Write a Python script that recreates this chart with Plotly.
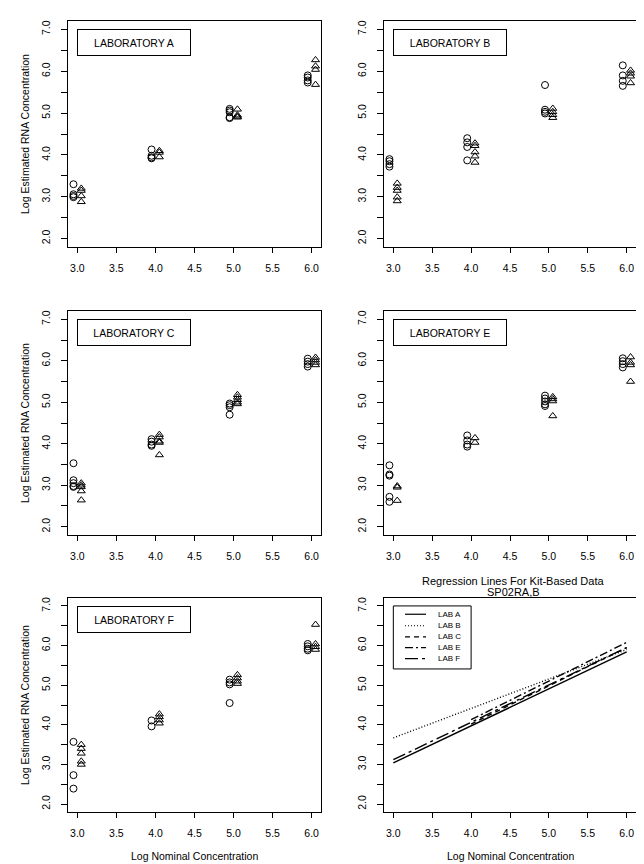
import plotly.graph_objects as go

# ---------------- data ----------------
levels = [3.0, 4.0, 5.0, 6.0]
x_tick_vals = [3.0, 3.5, 4.0, 4.5, 5.0, 5.5, 6.0]
y_tick_vals = [2.0, 3.0, 4.0, 5.0, 6.0, 7.0]

panel_labels = ["LABORATORY A", "LABORATORY B", "LABORATORY C",
                "LABORATORY E", "LABORATORY F"]

# circles (first run) and triangles (second run), one list per nominal level
lab_a_circles = [[3.30, 3.06, 3.02, 2.99], [4.13, 3.98, 3.94, 3.92],
                 [5.10, 5.06, 5.02, 4.90, 4.88], [5.90, 5.85, 5.78, 5.73]]
lab_a_triangles = [[3.20, 3.15, 3.02, 2.88], [4.10, 4.06, 3.95],
                   [5.09, 4.95, 4.92, 4.90], [6.27, 6.12, 6.04, 5.68]]

lab_b_circles = [[3.90, 3.85, 3.78, 3.72], [4.40, 4.30, 4.19, 3.87],
                 [5.67, 5.08, 5.03, 4.99], [6.14, 5.90, 5.77, 5.65]]
lab_b_triangles = [[3.32, 3.22, 3.15, 2.99, 2.90], [4.28, 4.22, 4.07, 3.97, 3.82],
                   [5.11, 5.03, 4.96, 4.89], [6.02, 5.95, 5.88, 5.72]]

lab_c_circles = [[3.53, 3.12, 3.05, 2.98, 2.96], [4.11, 4.05, 3.98, 3.95],
                 [4.97, 4.93, 4.88, 4.70], [6.05, 5.98, 5.92, 5.86]]
lab_c_triangles = [[3.05, 3.00, 2.96, 2.86, 2.64], [4.22, 4.16, 4.06, 4.03, 3.73],
                   [5.18, 5.12, 5.06, 5.00, 4.96], [6.08, 6.02, 5.96, 5.90]]

lab_e_circles = [[3.48, 3.26, 3.23, 2.72, 2.60], [4.20, 4.08, 3.98, 3.93],
                 [5.16, 5.09, 5.02, 4.95, 4.91], [6.06, 5.99, 5.92, 5.84]]
lab_e_triangles = [[2.98, 2.95, 2.63], [4.14, 4.03],
                   [5.13, 5.08, 5.03, 4.67], [6.09, 5.96, 5.90, 5.50]]

lab_f_circles = [[3.57, 2.73, 2.39], [4.11, 3.96],
                 [5.14, 5.07, 5.02, 4.55], [6.04, 5.98, 5.92, 5.88]]
lab_f_triangles = [[3.50, 3.40, 3.28, 3.08, 3.00], [4.27, 4.20, 4.12, 4.04],
                   [5.26, 5.18, 5.10, 5.04], [6.53, 6.04, 5.97, 5.90]]

# regression lines (start/end x and fitted y)
reg_names = ["LAB A", "LAB B", "LAB C", "LAB E", "LAB F"]
reg_x_start = [3.0, 3.0, 4.0, 4.0, 3.0]
reg_x_end = [6.0, 6.0, 6.0, 6.0, 6.0]
reg_y_start = [3.04, 3.67, 4.02, 4.13, 3.12]
reg_y_end = [5.84, 5.90, 5.95, 6.08, 5.95]

# ---------------- styling ----------------
FONT = "Liberation Sans, Arial, Helvetica, sans-serif"
circles = [lab_a_circles, lab_b_circles, lab_c_circles, lab_e_circles, lab_f_circles]
triangles = [lab_a_triangles, lab_b_triangles, lab_c_triangles, lab_e_triangles, lab_f_triangles]
dashes = ["solid", "1px,2px", "5px,4px", "8px,3px,2px,3px", "13px,4px,3px,4px"]

W, H = 644, 864
col_x = [(60, 313), (376, 628)]
row_y = [(13, 239), (303, 527), (590, 804)]


def dom_x(c):
    return [col_x[c][0] / W, col_x[c][1] / W]


def dom_y(r):
    return [1 - row_y[r][1] / H, 1 - row_y[r][0] / H]


fig = go.Figure()


def flat(groups, offset):
    xs, ys = [], []
    for lv, vals in zip(levels, groups):
        for v in vals:
            xs.append(lv + offset)
            ys.append(v)
    return xs, ys


for i in range(5):
    ax = "" if i == 0 else str(i + 1)
    xs, ys = flat(circles[i], -0.05)
    fig.add_trace(go.Scatter(x=xs, y=ys, mode="markers", showlegend=False,
                             xaxis="x" + ax, yaxis="y" + ax,
                             marker=dict(symbol="circle-open", size=7, color="black",
                                         line=dict(width=1, color="black"))))
    xs, ys = flat(triangles[i], 0.05)
    fig.add_trace(go.Scatter(x=xs, y=ys, mode="markers", showlegend=False,
                             xaxis="x" + ax, yaxis="y" + ax,
                             marker=dict(symbol="triangle-up-open", size=7, color="black",
                                         line=dict(width=1, color="black"))))

for k in range(5):
    fig.add_trace(go.Scatter(x=[reg_x_start[k], reg_x_end[k]],
                             y=[reg_y_start[k], reg_y_end[k]],
                             mode="lines", name=reg_names[k], showlegend=False,
                             xaxis="x6", yaxis="y6",
                             line=dict(color="black", width=1.4, dash=dashes[k])))

axis_common = dict(showline=True, mirror=True, linecolor="black", linewidth=1,
                   showgrid=False, zeroline=False, ticks="outside",
                   tickcolor="black", tickwidth=1,
                   tickfont=dict(family=FONT, size=10.5, color="black"))

layout = dict(width=W, height=H, margin=dict(l=0, r=0, t=0, b=0),
              paper_bgcolor="white", plot_bgcolor="white", showlegend=False)

positions = [(0, 0), (0, 1), (1, 0), (1, 1), (2, 0), (2, 1)]
for i, (r, c) in enumerate(positions):
    ax = "" if i == 0 else str(i + 1)
    layout["xaxis" + ax] = dict(axis_common, domain=dom_x(c), anchor="y" + ax,
                                range=[2.88, 6.12], tickvals=x_tick_vals,
                                tickformat=".1f", ticklen=5, ticklabelstandoff=6)
    layout["yaxis" + ax] = dict(axis_common, domain=dom_y(r), anchor="x" + ax,
                                range=[1.8, 7.2], tickvals=y_tick_vals,
                                tickformat=".1f", tickangle=-90, ticklen=6,
                                ticklabelstandoff=7,
                                minor=dict(dtick=0.5, tick0=2.0, ticks="outside",
                                           ticklen=6, tickcolor="black",
                                           tickwidth=1, showgrid=False))
fig.update_layout(**layout)

annotations = []
shapes = []
# laboratory boxes
for i in range(5):
    ax = "" if i == 0 else str(i + 1)
    annotations.append(dict(x=3.0, y=7.0, xref="x" + ax, yref="y" + ax,
                            xanchor="left", yanchor="top", showarrow=False,
                            text=panel_labels[i], width=112, height=25,
                            bordercolor="black", borderwidth=1, borderpad=0,
                            bgcolor="white",
                            font=dict(family=FONT, size=10.5, color="black")))

# y-axis titles (left column)
for r in range(3):
    d = dom_y(r)
    annotations.append(dict(x=17 / W, y=(d[0] + d[1]) / 2, xref="paper", yref="paper",
                            xanchor="center", yanchor="middle", textangle=-90,
                            showarrow=False, text="Log Estimated RNA Concentration",
                            font=dict(family=FONT, size=10.5, color="black")))
# x-axis titles (bottom row)
for c in range(2):
    d = dom_x(c)
    annotations.append(dict(x=(d[0] + d[1]) / 2, y=1 - 848 / H, xref="paper", yref="paper",
                            xanchor="center", yanchor="middle", showarrow=False,
                            text="Log Nominal Concentration",
                            font=dict(family=FONT, size=10.5, color="black")))
# regression panel title
for txt, ypx in [("Regression Lines For Kit-Based Data", 572.5), ("SP02RA,B", 583.5)]:
    annotations.append(dict(x=505 / W, y=1 - ypx / H, xref="paper", yref="paper",
                            xanchor="center", yanchor="middle", showarrow=False,
                            text=txt, font=dict(family=FONT, size=11, color="black")))

# manual legend for the regression panel
shapes.append(dict(type="rect", xref="x6", yref="y6", x0=3.0, x1=4.0, y0=5.41, y1=7.0,
                   line=dict(color="black", width=1), fillcolor="white", layer="above"))
legend_rows = [6.79, 6.50, 6.22, 5.95, 5.67]
for k in range(5):
    shapes.append(dict(type="line", xref="x6", yref="y6", x0=3.15, x1=3.42,
                       y0=legend_rows[k], y1=legend_rows[k],
                       line=dict(color="black", width=1.2, dash=dashes[k]), layer="above"))
    annotations.append(dict(x=3.545, y=legend_rows[k], xref="x6", yref="y6",
                            xanchor="left", yanchor="middle", showarrow=False,
                            text=reg_names[k],
                            font=dict(family=FONT, size=8, color="black")))

fig.update_layout(annotations=annotations, shapes=shapes)
fig.write_html("out.html")
